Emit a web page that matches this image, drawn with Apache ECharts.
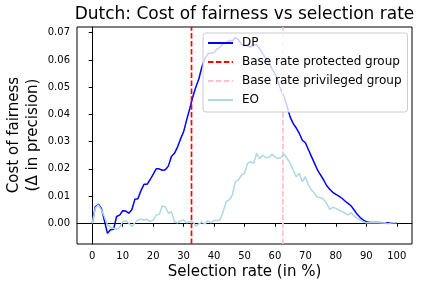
<!DOCTYPE html>
<html><head><meta charset="utf-8">
<script src="https://cdn.jsdelivr.net/npm/echarts@6/dist/echarts.min.js"></script>
<style>html,body{margin:0;padding:0;background:#fff}#c{width:421px;height:287px}</style>
</head><body><div id="c"></div>
<script>
var selectionRate = [];
for (var i = 0; i <= 100; i++) selectionRate.push(i);
var dpValues = [0.000,0.006,0.007,0.0055,0.001,-0.0037,-0.0024,-0.0022,0.0025,0.003,
0.0046,0.0045,0.0037,0.005,0.0088,0.009,0.012,0.0143,0.0143,0.016,
0.018,0.020,0.020,0.0195,0.0197,0.021,0.0245,0.0257,0.028,0.031,
0.0336,0.038,0.042,0.0464,0.050,0.053,0.0574,0.0605,0.0623,0.0625,
0.0627,0.064,0.0647,0.066,0.066,0.0672,0.067,0.0682,0.0675,0.0656,
0.0656,0.0651,0.0647,0.0656,0.0656,0.064,0.0623,0.0605,0.059,0.0568,
0.055,0.052,0.0489,0.0464,0.0428,0.039,0.0366,0.035,0.033,0.0305,
0.0296,0.027,0.0245,0.022,0.0195,0.0177,0.0159,0.0138,0.0125,0.0114,
0.0106,0.010,0.0092,0.0082,0.0073,0.0064,0.0049,0.0033,0.0021,0.0012,
0.0006,0.0004,0.0003,0.0003,0.0003,0.0002,0.0002,0.0002,0.0002,0.0002,0.0002];
var eoValues = [0.000,0.0055,0.0068,0.0049,0.0024,-0.0006,-0.0015,-0.0018,-0.0022,-0.0016,
0.0006,0.001,0.000,-0.0012,0.0002,0.0012,0.0015,0.0012,0.0015,0.0006,
0.0012,0.003,0.0033,0.0064,0.006,0.0037,0.0043,0.0006,0.0002,0.0009,
0.0012,0.0002,0.0006,0.0006,-0.001,-0.0002,0.0004,-0.0002,0.0009,0.0002,
0.001,0.001,0.0012,0.0043,0.008,0.0086,0.0104,0.0153,0.0159,0.0177,
0.0183,0.022,0.0226,0.022,0.0257,0.0238,0.025,0.0242,0.0242,0.0254,
0.0244,0.0238,0.0242,0.0254,0.0238,0.022,0.0195,0.0171,0.0183,0.0153,
0.0171,0.014,0.0122,0.011,0.0095,0.0095,0.0088,0.0073,0.0051,0.0059,
0.0055,0.0049,0.0043,0.0037,0.003,0.0039,0.0027,0.0018,0.0012,0.0005,
0.0002,0.0003,0.0002,0.0003,0.0002,0.0001,0.0002,-0.0002,0.0001,0.0002,0.0002];
var baseRateProtected = 32.6;
var baseRatePrivileged = 62.6;
var xTicks = [0,10,20,30,40,50,60,70,80,90,100];
var yTicks = [0,0.01,0.02,0.03,0.04,0.05,0.06,0.07];
var seriesNames = ['DP','Base rate protected group','Base rate privileged group','EO'];

var yMin = -0.0076, yMax = 0.0721;
function pairs(xs, ys){ return xs.map(function(x,i){return [x, ys[i]];}); }
var F = 'DejaVu Sans';
var chart = echarts.init(document.getElementById('c'), null, {renderer:'canvas'});
chart.setOption({
  animation: false,
  grid: {left:77, right:9, top:27, bottom:43, show:true, borderColor:'#000', borderWidth:1, backgroundColor:'transparent'},
  xAxis: {type:'value', min:-5, max:105,
    axisLine:{show:true, lineStyle:{color:'#000', width:1}},
    axisTick:{show:true, length:3.5, lineStyle:{color:'#000'}, customValues:xTicks},
    axisLabel:{color:'#000', fontFamily:F, fontSize:10, margin:7, customValues:xTicks},
    splitLine:{show:false}},
  yAxis: {type:'value', min:yMin, max:yMax,
    axisLine:{show:true, lineStyle:{color:'#000', width:1}},
    axisTick:{show:true, length:3.5, lineStyle:{color:'#000'}, customValues:yTicks},
    axisLabel:{color:'#000', fontFamily:F, fontSize:10, margin:7, customValues:yTicks,
      formatter:function(v){return v.toFixed(2);}},
    splitLine:{show:false}},
  legend: {orient:'vertical', left:203, top:33, data:seriesNames,
    backgroundColor:'rgba(255,255,255,0.8)', borderColor:'#cccccc', borderWidth:1, borderRadius:3,
    padding:[3,6,5,4], itemWidth:25, itemHeight:14, itemGap:5,
    itemStyle:{opacity:0},
    textStyle:{fontFamily:F, fontSize:12, color:'#000', lineHeight:14, padding:[0,0,0,4]}},
  graphic: [
    {type:'text', x:244.5, y:15, style:{text:'Dutch: Cost of fairness vs selection rate', font:'17px "DejaVu Sans"', fill:'#000', textAlign:'center', textVerticalAlign:'middle'}},
    {type:'text', x:244.5, y:272, style:{text:'Selection rate (in %)', font:'15px "DejaVu Sans"', fill:'#000', textAlign:'center', textVerticalAlign:'middle'}},
    {type:'text', x:24, y:135, rotation:Math.PI/2, style:{text:'Cost of fairness\n(Δ in precision)', font:'15px "DejaVu Sans"', lineHeight:19, fill:'#000', textAlign:'center', textVerticalAlign:'middle'}}
  ],
  series: [
    {name:seriesNames[0], type:'line', data:pairs(selectionRate, dpValues), symbol:'none', lineStyle:{color:'#0000ff', width:1.5}, itemStyle:{color:'#0000ff'}},
    {name:seriesNames[1], type:'line', data:[[baseRateProtected,yMin],[baseRateProtected,yMax]], symbol:'none', lineStyle:{color:'#ff0000', width:1.7, type:[5.5,2.4]}, itemStyle:{color:'#ff0000'}},
    {name:seriesNames[2], type:'line', data:[[baseRatePrivileged,yMin],[baseRatePrivileged,yMax]], symbol:'none', lineStyle:{color:'#ffc0cb', width:1.7, type:[5.5,2.4]}, itemStyle:{color:'#ffc0cb'}},
    {name:seriesNames[3], type:'line', data:pairs(selectionRate, eoValues), symbol:'none', lineStyle:{color:'#add8e6', width:1.5}, itemStyle:{color:'#add8e6'}}
  ]
});
</script></body></html>
